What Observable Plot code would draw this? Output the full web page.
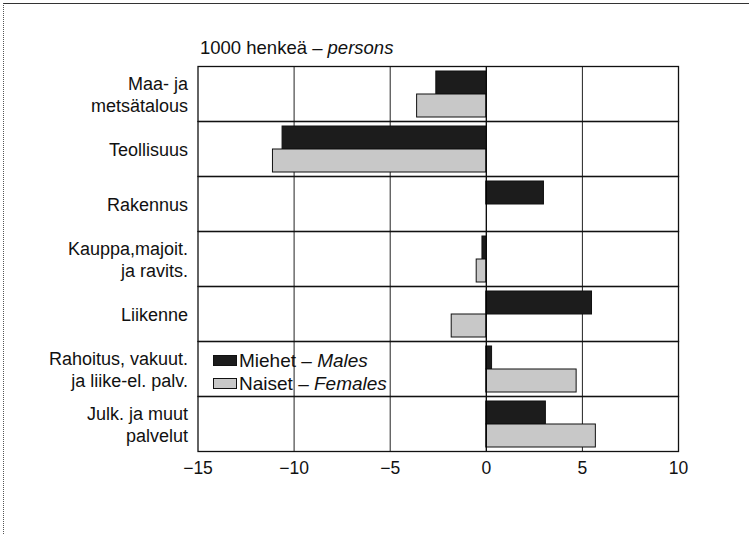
<!DOCTYPE html>
<html>
<head>
<meta charset="utf-8">
<script src="https://cdn.jsdelivr.net/npm/d3@7"></script>
<script src="https://cdn.jsdelivr.net/npm/@observablehq/plot@0.6"></script>
<style>
  html, body { margin: 0; padding: 0; background: #fff; }
  #wrap { position: relative; width: 749px; height: 534px; overflow: hidden; font-family: "Liberation Sans", Arial, sans-serif; color: #111; }
  #border { position: absolute; left: 3px; top: 3px; width: 760px; height: 540px; border-top: 1.5px solid #333; border-left: 1px dotted #555; }
  #chart { position: absolute; left: 0; top: 0; }
  #title { position: absolute; left: 200px; top: 39px; font-size: 18.5px; line-height: 1; white-space: nowrap; }
  #legend { position: absolute; left: 213px; top: 349px; font-size: 19px; line-height: 23px; }
  #legend .row { display: flex; align-items: center; white-space: nowrap; }
  #legend .sw { width: 24px; height: 11px; margin-right: 2px; box-sizing: border-box; border: 1px solid #111; }
</style>
</head>
<body>
<div id="wrap">
  <div id="chart"></div>
  <div id="border"></div>
  <div id="title">1000 henkeä – <i>persons</i></div>
  <div id="legend"></div>
</div>
<script>
const categories = [
  "Maa- ja\nmetsätalous",
  "Teollisuus",
  "Rakennus",
  "Kauppa,majoit.\nja ravits.",
  "Liikenne",
  "Rahoitus, vakuut.\nja liike-el. palv.",
  "Julk. ja muut\npalvelut"
];
const series = ["Miehet", "Naiset"];
const seriesLabels = ["Males", "Females"];
const males   = [-2.6, -10.6, 3.0, -0.2, 5.5, 0.3, 3.1];
const females = [-3.6, -11.1, 0.0, -0.5, -1.8, 4.7, 5.7];
const xTicks = [-15, -10, -5, 0, 5, 10];
const gridTicks = [-10, -5, 5];
const colors = ["#1c1c1c", "#c8c8c8"];

const rows = [];
categories.forEach((c, i) => {
  rows.push({cat: c, sex: series[0], value: males[i]});
  rows.push({cat: c, sex: series[1], value: females[i]});
});

const chart = Plot.plot({
  width: 749,
  height: 534,
  marginLeft: 197.5,
  marginRight: 71,
  marginTop: 64,
  marginBottom: 82,
  style: {fontFamily: "'Liberation Sans', Arial, sans-serif", fontSize: "17.5px", color: "#111", background: "transparent"},
  x: {domain: [-15, 10]},
  fy: {domain: categories, padding: 0, axis: null},
  y: {domain: series, paddingInner: 0, paddingOuter: 0.15, axis: null},
  color: {domain: series, range: colors},
  marks: [
    Plot.ruleX(gridTicks, {stroke: "#222", strokeWidth: 1}),
    Plot.barX(rows, {fy: "cat", y: "sex", x: "value", fill: "sex", stroke: "#111", strokeWidth: 1}),
    Plot.ruleX([0], {stroke: "#000", strokeWidth: 1.3}),
    Plot.frame({stroke: "#111", strokeWidth: 1.3}),
    Plot.text(categories, {fy: d => d, text: d => d, frameAnchor: "left", dx: -10, textAnchor: "end", lineHeight: 1.22, fontSize: 18, fill: "#111"}),
    Plot.axisX({anchor: "bottom", ticks: xTicks, tickSize: 0, tickPadding: 10, fontSize: 17.5, label: null, fill: "#111"})
  ]
});
document.getElementById("chart").appendChild(chart);

const legend = document.getElementById("legend");
series.forEach((s, i) => {
  const row = document.createElement("div");
  row.className = "row";
  const sw = document.createElement("span");
  sw.className = "sw";
  sw.style.background = colors[i];
  row.appendChild(sw);
  const t = document.createElement("span");
  t.innerHTML = s + " – <i>" + seriesLabels[i] + "</i>";
  row.appendChild(t);
  legend.appendChild(row);
});
</script>
</body>
</html>
